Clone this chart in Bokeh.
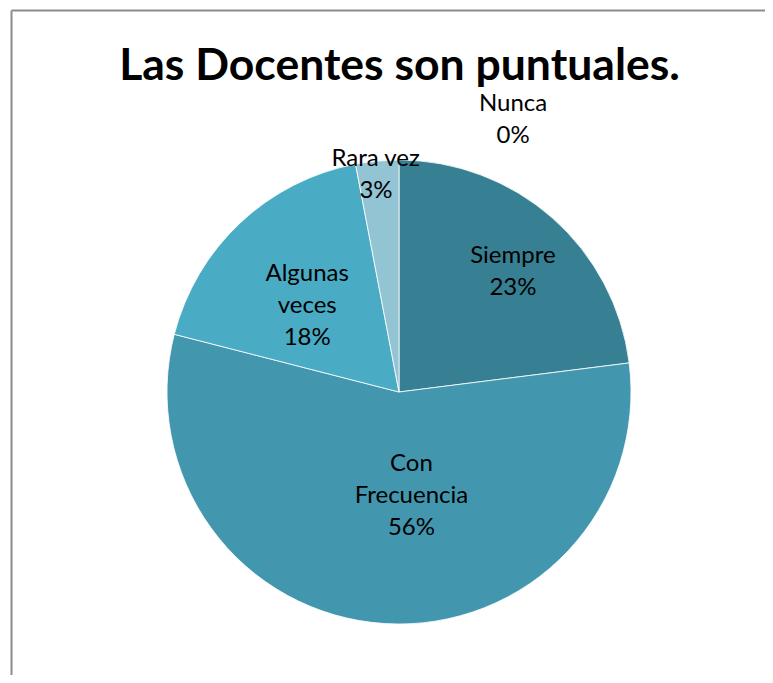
import math
from bokeh.plotting import figure
from bokeh.models import ColumnDataSource, Range1d, Label
from bokeh.core.properties import value
from bokeh.embed import file_html
from bokeh.resources import INLINE

# ---- data ----
categories = ["Siempre", "Con Frecuencia", "Algunas veces", "Rara vez", "Nunca"]
percents = [23, 56, 18, 3, 0]
label_lines = [["Siempre"], ["Con", "Frecuencia"], ["Algunas", "veces"], ["Rara vez"], ["Nunca"]]
colors = ["#377F92", "#4297AF", "#4AABC5", "#93C4D4", "#B7DDE8"]
title_text = "Las Docentes son puntuales."

# ---- layout (pixel-scaled data space) ----
W, H = 765, 675
CX, CY, R = 398.5, H - 391.5, 232
label_rfrac = [0.72, 0.44, 0.55, 0.95, 1.28]
label_angle_shift = [1.6, -10.6, -2.8, -0.6, 22.6]  # degrees
LH = 32
FONT = "Lato"

p = figure(width=W, height=H, output_backend="svg", toolbar_location=None,
           x_range=Range1d(0, W), y_range=Range1d(0, H), min_border=0)
p.axis.visible = False
p.grid.visible = False
p.outline_line_color = None
p.background_fill_color = "white"

total = sum(percents)
starts, ends, cols, mids = [], [], [], []
cum = 0.0
for v, c in zip(percents, colors):
    a0 = cum / total
    cum += v
    a1 = cum / total
    mids.append((a0 + a1) / 2 * 360)
    if v > 0:
        starts.append(math.pi / 2 - 2 * math.pi * a0)
        ends.append(math.pi / 2 - 2 * math.pi * a1)
        cols.append(c)

src = ColumnDataSource(dict(x=[CX] * len(cols), y=[CY] * len(cols),
                            start=starts, end=ends, color=cols))
p.wedge(x="x", y="y", radius=R, start_angle="start", end_angle="end",
        direction="clock", fill_color="color", line_color="white",
        line_width=0.8, source=src)

# labels
tx, ty, tt = [], [], []
for i, cat in enumerate(categories):
    ang = math.radians(mids[i] + label_angle_shift[i])
    r = R * label_rfrac[i]
    lx = CX + r * math.sin(ang)
    ly = CY + r * math.cos(ang)
    lines = label_lines[i] + [f"{percents[i]}%"]
    n = len(lines)
    for j, s in enumerate(lines):
        tx.append(lx)
        ty.append(ly + (n - 1) / 2 * LH - j * LH)
        tt.append(s)
p.text(x=tx, y=ty, text=tt, text_align="center", text_baseline="middle",
       text_font=value(FONT), text_font_size="24px", text_color="black")

# title
p.add_layout(Label(x=399, y=H - 62, text=title_text, text_align="center",
                   text_baseline="middle", text_font=FONT,
                   text_font_size="44.5px", text_font_style="bold",
                   text_color="black"))

# chart-area border (top and left visible)
p.segment(x0=[11, 11], y0=[H - 10, H - 10], x1=[W, 11], y1=[H - 10, 0],
          line_color="#8c8c8c", line_width=2)

open("out.html", "w").write(file_html(p, INLINE))
